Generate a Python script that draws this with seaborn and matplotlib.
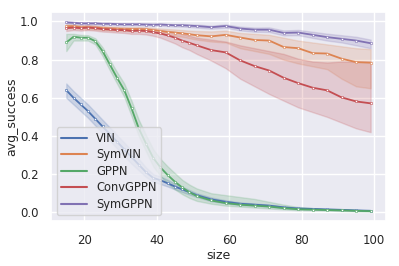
import pandas as pd
import matplotlib
matplotlib.use("Agg")
import matplotlib.pyplot as plt
import seaborn as sns

# maze sizes evaluated
sizes = [15, 17, 19, 21, 23, 25, 27, 29, 31, 33, 35, 37, 39, 41, 43, 45, 47, 49, 51,
         55, 59, 63, 67, 71, 75, 79, 83, 87, 91, 95, 99]

methods = ["VIN", "SymVIN", "GPPN", "ConvGPPN", "SymGPPN"]

# mean success and min / max band for each method
vin_mean = [.64, .60, .565, .53, .49, .45, .41, .37, .33, .29, .25, .21, .18, .168, .152, .135, .12, .105, .09,
            .068, .055, .045, .04, .035, .026, .02, .018, .015, .013, .01, .008]
vin_lo = [.60, .565, .53, .495, .455, .415, .375, .335, .295, .255, .22, .185, .16, .148, .135, .12, .106, .093, .08,
          .058, .047, .038, .034, .03, .021, .016, .015, .012, .01, .008, .006]
vin_hi = [.675, .635, .60, .565, .525, .485, .445, .405, .365, .325, .28, .235, .20, .188, .17, .15, .134, .117, .10,
          .078, .063, .052, .046, .04, .031, .024, .021, .018, .016, .012, .01]

symvin_mean = [.975, .975, .97, .97, .968, .965, .963, .962, .96, .96, .96, .958, .955, .95, .945, .942, .938, .933, .928,
               .922, .93, .916, .903, .90, .866, .86, .834, .832, .805, .787, .784]
symvin_lo = [.965, .965, .96, .96, .958, .955, .953, .952, .95, .95, .95, .947, .943, .937, .93, .925, .92, .912, .905,
             .895, .89, .86, .845, .83, .80, .78, .765, .75, .70, .66, .65]
symvin_hi = [.985, .985, .98, .98, .978, .975, .973, .972, .97, .97, .97, .969, .967, .963, .96, .958, .955, .952, .95,
             .948, .952, .94, .935, .93, .915, .90, .89, .88, .87, .86, .855]

gppn_mean = [.89, .92, .915, .915, .897, .845, .775, .705, .64, .545, .44, .36, .285, .235, .195, .16, .13, .105, .085,
             .062, .048, .04, .035, .03, .022, .016, .014, .012, .01, .008, .006]
gppn_lo = [.845, .90, .90, .90, .88, .82, .745, .675, .605, .505, .40, .32, .24, .19, .15, .12, .095, .075, .06,
           .045, .035, .03, .025, .02, .015, .011, .01, .009, .007, .005, .004]
gppn_hi = [.935, .935, .93, .928, .912, .865, .80, .735, .675, .585, .485, .405, .33, .28, .24, .205, .17, .145, .125,
           .10, .09, .08, .07, .055, .04, .028, .022, .018, .015, .012, .01]

convgppn_mean = [.965, .968, .965, .968, .965, .96, .958, .955, .955, .95, .952, .95, .944, .937, .927, .915, .90, .888, .875,
                 .85, .838, .796, .766, .743, .705, .677, .653, .639, .602, .581, .571]
convgppn_lo = [.95, .955, .952, .955, .952, .947, .945, .942, .94, .935, .935, .932, .925, .915, .90, .885, .865, .85, .83,
               .795, .755, .70, .66, .62, .585, .55, .525, .50, .47, .44, .42]
convgppn_hi = [.98, .98, .978, .98, .977, .972, .97, .968, .968, .965, .967, .965, .96, .955, .95, .945, .935, .925, .915,
               .905, .895, .875, .86, .845, .83, .805, .79, .785, .79, .79, .79]

symgppn_mean = [.995, .993, .99, .99, .99, .988, .988, .986, .985, .985, .985, .984, .983, .984, .982, .98, .98, .978, .976,
                .97, .976, .963, .957, .957, .94, .942, .93, .918, .909, .90, .886]
symgppn_lo = [.99, .988, .985, .985, .985, .983, .983, .981, .98, .98, .98, .979, .978, .978, .976, .974, .973, .971, .968,
              .962, .967, .953, .946, .945, .927, .928, .914, .90, .89, .875, .86]
symgppn_hi = [1.0, .998, .995, .995, .995, .993, .993, .991, .99, .99, .99, .989, .988, .99, .988, .986, .987, .985, .984,
              .978, .985, .973, .968, .969, .953, .956, .946, .936, .928, .92, .905]

series = {
    "VIN": (vin_mean, vin_lo, vin_hi),
    "SymVIN": (symvin_mean, symvin_lo, symvin_hi),
    "GPPN": (gppn_mean, gppn_lo, gppn_hi),
    "ConvGPPN": (convgppn_mean, convgppn_lo, convgppn_hi),
    "SymGPPN": (symgppn_mean, symgppn_lo, symgppn_hi),
}

# long table: three rows per size (low, mean, high) -> median is the mean, min/max is the band
rows = []
for name in methods:
    for vals in series[name]:
        for s, v in zip(sizes, vals):
            rows.append({"size": s, "avg_success": v, "method": name})
df = pd.DataFrame(rows)

sns.set_theme(style="darkgrid")
plt.rcParams["font.family"] = ["DejaVu Sans"]

fig, ax = plt.subplots(figsize=(3.99, 2.66), dpi=100)
fig.subplots_adjust(left=0.128, right=0.967, top=0.955, bottom=0.169)

sns.lineplot(data=df, x="size", y="avg_success", hue="method", hue_order=methods,
             estimator="median", errorbar=("pi", 100), marker="s", markersize=2.0,
             linewidth=1.3, dashes=False, ax=ax)

for line in ax.lines:
    line.set_markerfacecolor("white")
    line.set_markeredgecolor(line.get_color())
    line.set_markeredgewidth(0.4)

ax.tick_params(labelsize=8.5, pad=3)
ax.set_xlabel("size", fontsize=9, labelpad=2)
ax.set_ylabel("avg_success", fontsize=9, labelpad=1)

leg = ax.legend(loc="lower left", fontsize=8.3, handlelength=2.2, borderpad=0.4, labelspacing=0.3)
for h in leg.get_lines():
    h.set_marker("")
    h.set_linewidth(1.5)

fig.savefig("out.png", dpi=100)
